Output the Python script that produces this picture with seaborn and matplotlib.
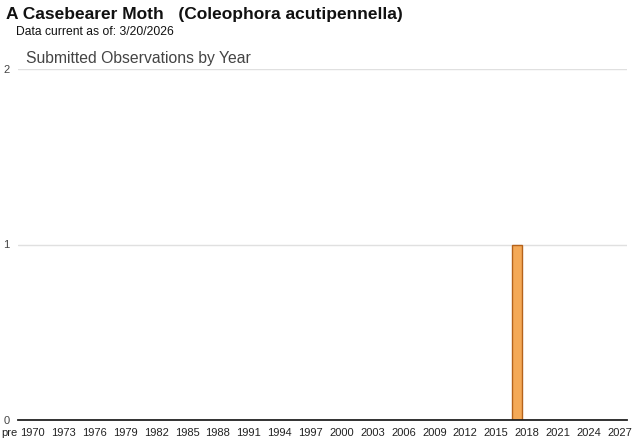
import numpy as np
import pandas as pd
import matplotlib
matplotlib.use("Agg")
import matplotlib.pyplot as plt
import seaborn as sns

# Data
obs_years = [2017]
obs_counts = [1]
tick_years = list(range(1970, 2028, 3))
y_ticks = [0, 1, 2]

title = "A Casebearer Moth   (Coleophora acutipennella)"
subtitle = "Data current as of: 3/20/2026"
chart_title = "Submitted Observations by Year"

sns.set_theme(style="white")
plt.rcParams['font.family'] = ['Liberation Sans', 'DejaVu Sans']

df = pd.DataFrame({"year": obs_years, "count": obs_counts})

fig = plt.figure(figsize=(6.4, 4.42), dpi=100)
ax = fig.add_axes([18 / 640, 1 - 420 / 442, (627 - 18) / 640, (420 - 69) / 442])

sns.barplot(data=df, x="year", y="count", native_scale=True, width=0.95,
            color="#F4A957", edgecolor="#B5621A", linewidth=1.0,
            saturation=1, ax=ax, zorder=3)

x_left = 1968.6
ax.set_xlim(x_left, 2027.7)
ax.set_ylim(0, 2)
ax.set_yticks(y_ticks)
ax.set_yticklabels([str(v) for v in y_ticks])
ax.set_xticks([x_left] + tick_years)
ax.set_xticklabels(["pre"] + [str(y) for y in tick_years])
ax.get_xticklabels()[0].set_horizontalalignment("right")

ax.grid(axis="y", color="#e0e0e0", linewidth=1, zorder=0)
for s in ["top", "right", "left"]:
    ax.spines[s].set_visible(False)
ax.spines["bottom"].set_color("#222222")
ax.spines["bottom"].set_linewidth(1.3)
ax.spines["bottom"].set_zorder(4)

ax.tick_params(axis="x", length=4, color="#dddddd", labelsize=8, labelcolor="#222222", pad=2)
ax.tick_params(axis="y", length=0, labelsize=8, labelcolor="#444444", pad=6)
ax.set_xlabel("")
ax.set_ylabel("")

fig.text(6 / 640, 1 - 15 / 442, title, fontsize=12.5, fontweight="bold",
         color="#111111", va="center", ha="left")
fig.text(16 / 640, 1 - 32 / 442, subtitle, fontsize=8.7, color="#111111",
         va="center", ha="left")
fig.text(26 / 640, 1 - 58 / 442, chart_title, fontsize=11.3, color="#444444",
         va="center", ha="left")

fig.savefig("out.png", dpi=100)
